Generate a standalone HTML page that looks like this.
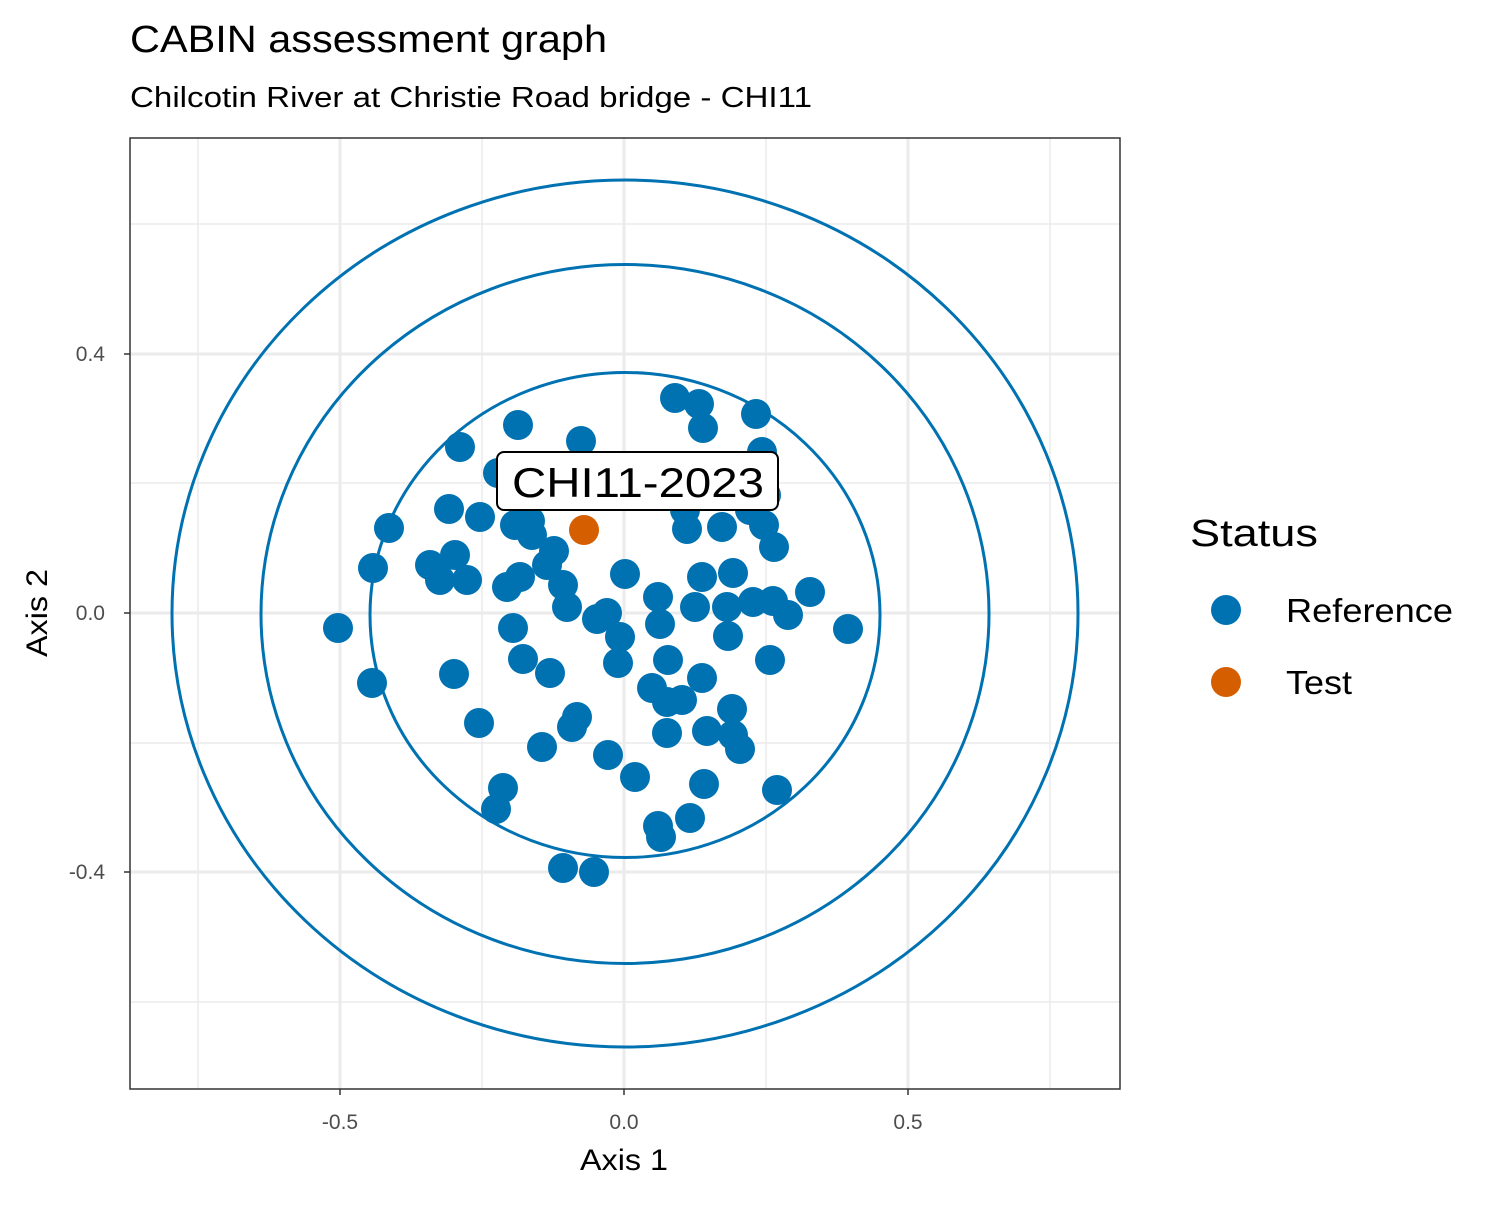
<!DOCTYPE html>
<html><head><meta charset="utf-8"><style>
body{margin:0;background:#fff}
svg text{font-family:"Liberation Sans",Arial,sans-serif}
</style></head><body>
<svg width="1500" height="1200" viewBox="0 0 1500 1200" xmlns="http://www.w3.org/2000/svg">
<rect width="1500" height="1200" fill="#fff"/>
<g stroke="#ebebeb" stroke-width="1.5">
<line x1="198" y1="138" x2="198" y2="1089"/><line x1="482" y1="138" x2="482" y2="1089"/>
<line x1="766" y1="138" x2="766" y2="1089"/><line x1="1050" y1="138" x2="1050" y2="1089"/>
<line x1="130" y1="224" x2="1120" y2="224"/><line x1="130" y1="483" x2="1120" y2="483"/>
<line x1="130" y1="743" x2="1120" y2="743"/><line x1="130" y1="1002" x2="1120" y2="1002"/>
</g>
<g stroke="#ebebeb" stroke-width="3">
<line x1="340" y1="138" x2="340" y2="1089"/><line x1="624" y1="138" x2="624" y2="1089"/><line x1="908" y1="138" x2="908" y2="1089"/>
<line x1="130" y1="354" x2="1120" y2="354"/><line x1="130" y1="613" x2="1120" y2="613"/><line x1="130" y1="872" x2="1120" y2="872"/>
</g>
<g fill="none" stroke="#0072B2" stroke-width="3">
<ellipse cx="625" cy="613.5" rx="453" ry="433.5"/>
<ellipse cx="625" cy="614" rx="364" ry="349.5"/>
<ellipse cx="625" cy="615" rx="255" ry="242.5"/>
</g>
<g fill="#0072B2">
<circle cx="675" cy="398" r="15"/><circle cx="699" cy="404" r="15"/><circle cx="703" cy="428" r="15"/><circle cx="756" cy="414" r="15"/>
<circle cx="518" cy="425" r="15"/><circle cx="581" cy="441" r="15"/><circle cx="460" cy="447" r="15"/><circle cx="762" cy="452" r="15"/>
<circle cx="498" cy="473" r="15"/><circle cx="766" cy="495" r="15"/><circle cx="389" cy="528" r="15"/><circle cx="449" cy="509" r="15"/>
<circle cx="480" cy="517" r="15"/><circle cx="515" cy="525" r="15"/><circle cx="530" cy="521" r="15"/><circle cx="532" cy="535" r="15"/>
<circle cx="554" cy="551" r="15"/><circle cx="687" cy="529" r="15"/><circle cx="722" cy="527" r="15"/><circle cx="764" cy="525" r="15"/>
<circle cx="774" cy="547" r="15"/><circle cx="750" cy="510" r="15"/><circle cx="685" cy="510" r="15"/><circle cx="373" cy="568" r="15"/>
<circle cx="430" cy="565" r="15"/><circle cx="455" cy="555" r="15"/><circle cx="440" cy="580" r="15"/><circle cx="467" cy="580" r="15"/>
<circle cx="507" cy="587" r="15"/><circle cx="520" cy="577" r="15"/><circle cx="547" cy="565" r="15"/><circle cx="563" cy="585" r="15"/>
<circle cx="567" cy="607" r="15"/><circle cx="625" cy="574" r="15"/><circle cx="513" cy="628" r="15"/><circle cx="597" cy="619" r="15"/>
<circle cx="607" cy="613" r="15"/><circle cx="620" cy="637" r="15"/><circle cx="523" cy="659" r="15"/><circle cx="550" cy="673" r="15"/>
<circle cx="618" cy="663" r="15"/><circle cx="658" cy="597" r="15"/><circle cx="660" cy="624" r="15"/><circle cx="695" cy="607" r="15"/>
<circle cx="702" cy="577" r="15"/><circle cx="733" cy="573" r="15"/><circle cx="728" cy="636" r="15"/><circle cx="727" cy="607" r="15"/>
<circle cx="753" cy="602" r="15"/><circle cx="773" cy="601" r="15"/><circle cx="788" cy="615" r="15"/><circle cx="810" cy="592" r="15"/>
<circle cx="770" cy="660" r="15"/><circle cx="668" cy="660" r="15"/><circle cx="702" cy="678" r="15"/><circle cx="652" cy="688" r="15"/>
<circle cx="667" cy="702" r="15"/><circle cx="682" cy="700" r="15"/><circle cx="732" cy="709" r="15"/><circle cx="667" cy="733" r="15"/>
<circle cx="707" cy="731" r="15"/><circle cx="733" cy="735" r="15"/><circle cx="740" cy="749" r="15"/><circle cx="577" cy="717" r="15"/>
<circle cx="572" cy="727" r="15"/><circle cx="542" cy="747" r="15"/><circle cx="608" cy="755" r="15"/><circle cx="479" cy="723" r="15"/>
<circle cx="338" cy="628" r="15"/><circle cx="848" cy="629" r="15"/><circle cx="372" cy="683" r="15"/><circle cx="454" cy="674" r="15"/>
<circle cx="635" cy="777" r="15"/><circle cx="503" cy="788" r="15"/><circle cx="496" cy="809" r="15"/><circle cx="704" cy="784" r="15"/>
<circle cx="777" cy="790" r="15"/><circle cx="690" cy="818" r="15"/><circle cx="658" cy="826" r="15"/><circle cx="661" cy="837" r="15"/>
<circle cx="563" cy="868" r="15"/><circle cx="594" cy="872" r="15"/>
</g>
<circle cx="584" cy="530" r="15" fill="#D55E00"/>
<rect x="497" y="452" width="281" height="58" rx="7" fill="#fff" stroke="#000" stroke-width="2"/>
<text x="512" y="497" font-size="42" textLength="252" lengthAdjust="spacingAndGlyphs">CHI11-2023</text>
<rect x="130" y="138" width="990" height="951" fill="none" stroke="#333" stroke-width="1.5"/>
<g stroke="#333" stroke-width="1.5">
<line x1="340" y1="1089" x2="340" y2="1095"/><line x1="624" y1="1089" x2="624" y2="1095"/><line x1="908" y1="1089" x2="908" y2="1095"/>
<line x1="124" y1="354" x2="130" y2="354"/><line x1="124" y1="613" x2="130" y2="613"/><line x1="124" y1="872" x2="130" y2="872"/>
</g>
<g font-size="21" fill="#4d4d4d">
<text x="340" y="1129" text-anchor="middle">-0.5</text><text x="624" y="1129" text-anchor="middle">0.0</text><text x="908" y="1129" text-anchor="middle">0.5</text>
<text x="105" y="361" text-anchor="end">0.4</text><text x="105" y="620" text-anchor="end">0.0</text><text x="105" y="879" text-anchor="end">-0.4</text>
</g>
<text x="580" y="1170" font-size="30" textLength="88" lengthAdjust="spacingAndGlyphs">Axis 1</text>
<text transform="translate(47,657) rotate(-90)" font-size="30" textLength="88" lengthAdjust="spacingAndGlyphs">Axis 2</text>
<text x="130" y="52" font-size="38" textLength="477" lengthAdjust="spacingAndGlyphs">CABIN assessment graph</text>
<text x="130" y="107" font-size="29" textLength="682" lengthAdjust="spacingAndGlyphs">Chilcotin River at Christie Road bridge - CHI11</text>
<text x="1190" y="546" font-size="38" textLength="128" lengthAdjust="spacingAndGlyphs">Status</text>
<circle cx="1226" cy="610" r="15" fill="#0072B2"/>
<text x="1286" y="622" font-size="33" textLength="167" lengthAdjust="spacingAndGlyphs">Reference</text>
<circle cx="1226" cy="682" r="15" fill="#D55E00"/>
<text x="1286" y="694" font-size="33" textLength="66" lengthAdjust="spacingAndGlyphs">Test</text>
</svg>
</body></html>
